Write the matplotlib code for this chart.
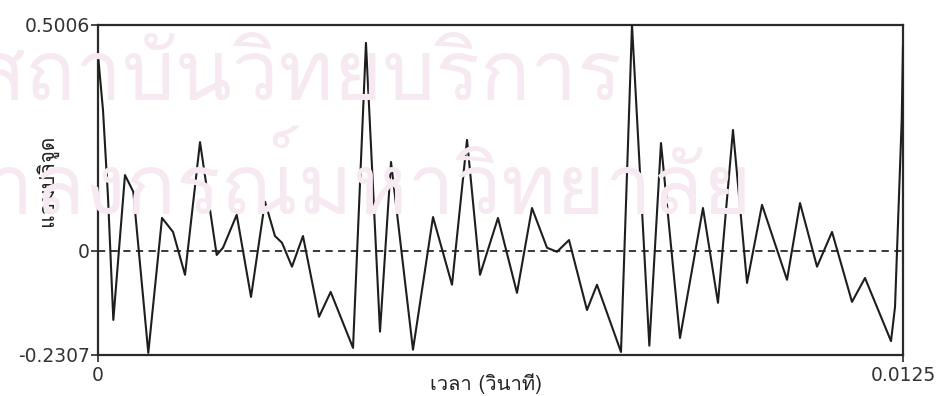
import matplotlib
matplotlib.use("Agg")
import matplotlib.pyplot as plt
from matplotlib import font_manager as fm
from matplotlib.ft2font import FT2Font

# ---- data ----
time_s = [0.0, 0.0000776, 0.000155, 0.000238, 0.000419, 0.000548, 0.000781,
          0.000994, 0.001165, 0.001351, 0.001584, 0.001843, 0.001941, 0.002154,
          0.002376, 0.002593, 0.002748, 0.002857, 0.003012, 0.003183, 0.003432,
          0.003613, 0.003960, 0.004161, 0.004379, 0.004550, 0.004891, 0.005202,
          0.005497, 0.005730, 0.005932, 0.006211, 0.006506, 0.006739, 0.006972,
          0.007127, 0.007314, 0.007593, 0.007748, 0.008121, 0.008292, 0.008561,
          0.008742, 0.009037, 0.009394, 0.009627, 0.009860, 0.010078, 0.010311,
          0.010699, 0.010901, 0.011165, 0.011398, 0.011708, 0.011910, 0.012314,
          0.012376, 0.012480, 0.0125]
amplitude = [0.434, 0.312, 0.120, -0.153, 0.168, 0.131, -0.226,
             0.073, 0.042, -0.053, 0.241, -0.009, 0.007, 0.080,
             -0.102, 0.109, 0.033, 0.018, -0.035, 0.033, -0.146,
             -0.091, -0.215, 0.461, -0.179, 0.197, -0.219, 0.075,
             -0.075, 0.246, -0.053, 0.073, -0.093, 0.095, 0.007,
             -0.002, 0.024, -0.131, -0.075, -0.224, 0.5006, -0.210,
             0.239, -0.193, 0.095, -0.115, 0.268, -0.071, 0.102,
             -0.064, 0.106, -0.035, 0.042, -0.113, -0.060, -0.200,
             -0.124, 0.290, 0.454]

y_ticks = [-0.2307, 0, 0.5006]
y_tick_labels = ["-0.2307", "0", "0.5006"]
x_ticks = [0, 0.0125]
x_tick_labels = ["0", "0.0125"]
x_label = "เวลา (วินาที)"
y_label = "แอมปลิจูด"
watermark_1 = "สถาบันวิทยบริการ"
watermark_2 = "จุฬาลงกรณ์มหาวิทยาลัย"


def find_thai_font():
    seen = set()
    for f in fm.fontManager.ttflist:
        if f.fname in seen:
            continue
        seen.add(f.fname)
        try:
            cm = FT2Font(f.fname).get_charmap()
        except Exception:
            continue
        if 0x0E2A in cm and 0x0E27 in cm and 0x0E34 in cm:
            return f.name
    return None


thai = find_thai_font()
thai_family = [thai, "DejaVu Sans"] if thai else ["DejaVu Sans"]

fig = plt.figure(figsize=(9.47, 3.96), dpi=100)

# watermark
wm_color = "#f7e9f1"
fig.text(622 / 947, 1 - 100 / 396, watermark_1, ha="right", va="baseline",
         fontsize=60, color=wm_color, family=thai_family, zorder=0)
fig.text(752 / 947, 1 - 215 / 396, watermark_2, ha="right", va="baseline",
         fontsize=60, color=wm_color, family=thai_family, zorder=0)

ax = fig.add_axes([98 / 947, 41 / 396, 805 / 947, 330 / 396])
ax.patch.set_alpha(0)

ax.plot(time_s, amplitude, color="#1e1e1e", lw=1.5, zorder=3)
ax.axhline(0, color="#2a2a2a", lw=1.3, ls=(0, (4, 3)), zorder=2)

ax.set_xlim(0, 0.0125)
ax.set_ylim(-0.2307, 0.5006)

for s in ax.spines.values():
    s.set_color("#2a2a2a")
    s.set_linewidth(1.6)

ax.set_yticks(y_ticks)
ax.set_yticklabels(y_tick_labels)
ax.set_xticks(x_ticks)
ax.set_xticklabels(x_tick_labels)
ax.tick_params(axis="both", direction="out", length=5, width=1.2,
               color="#2a2a2a", labelcolor="#333333", labelsize=13.5, pad=1)
ax.tick_params(axis="x", pad=3)

ax.set_xlabel(x_label, family=thai_family, fontsize=14.5, color="#222222")
ax.xaxis.set_label_coords((486 - 98) / 805, -(373 - 355) / 330)
ax.set_ylabel(y_label, family=thai_family, fontsize=15, color="#222222")
ax.yaxis.set_label_coords(-(98 - 58) / 805, (355 - 180) / 330)

fig.savefig("out.png", dpi=100, facecolor="white")
